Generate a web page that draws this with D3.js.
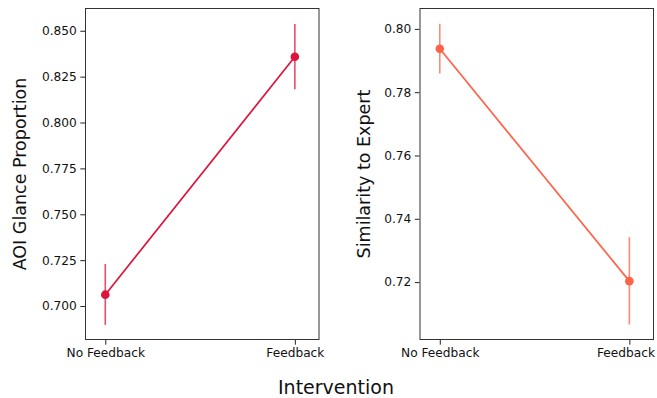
<!DOCTYPE html>
<html>
<head>
<meta charset="utf-8">
<script src="https://cdn.jsdelivr.net/npm/d3@7"></script>
<style>
  html, body { margin: 0; padding: 0; background: #fff; }
  svg { display: block; font-family: "DejaVu Sans", sans-serif; }
</style>
</head>
<body>
<svg id="chart" width="657" height="398"></svg>
<script>
// Intervention groups
const categories = ["No Feedback", "Feedback"];

// AOI glance proportion: mean and confidence interval per group
const aoiMean = [0.7062, 0.8358];
const aoiLow  = [0.6897, 0.8181];
const aoiHigh = [0.7229, 0.8537];
const aoiTicks = [0.700, 0.725, 0.750, 0.775, 0.800, 0.825, 0.850];

// Similarity to expert: mean and confidence interval per group
const simMean = [0.7937, 0.7203];
const simLow  = [0.7859, 0.7066];
const simHigh = [0.8016, 0.7342];
const simTicks = [0.72, 0.74, 0.76, 0.78, 0.80];

const W = 657;
const svg = d3.select("#chart");

function panel(opts) {
  const { left, right, top, bottom, yDomain, ticks, fmt, mean, low, high, color, label, labelX } = opts;
  const x = d3.scaleLinear().domain([-0.107, 1.13]).range([left, right]);
  const y = d3.scaleLinear().domain(yDomain).range([bottom, top]);
  const g = svg.append("g");

  // y axis
  const ya = g.append("g")
    .attr("transform", `translate(${left},0)`)
    .call(d3.axisLeft(y).tickValues(ticks).tickFormat(d3.format(fmt)).tickSize(4.7).tickPadding(3.5));
  // x axis
  const xa = g.append("g")
    .attr("transform", `translate(0,${bottom})`)
    .call(d3.axisBottom(x).tickValues(categories.map((_, i) => i))
      .tickFormat(i => categories[i]).tickSize(4.7).tickPadding(3.5));
  [ya, xa].forEach(a => {
    a.select(".domain").remove();
    a.selectAll(".tick line").attr("stroke", "#222");
    a.selectAll(".tick text").attr("fill", "#111").style("font-size", "12.2px")
      .style("font-family", "'DejaVu Sans', sans-serif");
  });

  // keep category labels inside the canvas
  xa.selectAll(".tick").each(function () {
    const t = d3.select(this).select("text");
    const b = this.getBBox();
    const m = this.getCTM();
    const rightEdge = m.e + b.x + b.width;
    if (rightEdge > W - 1) t.attr("x", -(rightEdge - (W - 1)));
  });

  // frame
  g.append("rect")
    .attr("x", left + 0.5).attr("y", top + 0.5)
    .attr("width", right - left - 1).attr("height", bottom - top - 1)
    .attr("fill", "none").attr("stroke", "#333").attr("stroke-width", 1);

  const idx = categories.map((_, i) => i);

  // error bars
  g.selectAll(".err").data(idx).join("line")
    .attr("x1", i => x(i)).attr("x2", i => x(i))
    .attr("y1", i => y(low[i])).attr("y2", i => y(high[i]))
    .attr("stroke", color).attr("stroke-opacity", 0.75).attr("stroke-width", 1.6);

  // connecting line
  g.append("path")
    .datum(idx)
    .attr("d", d3.line().x(i => x(i)).y(i => y(mean[i])))
    .attr("fill", "none").attr("stroke", color).attr("stroke-width", 1.7);

  // point markers
  g.selectAll(".pt").data(idx).join("circle")
    .attr("cx", i => x(i)).attr("cy", i => y(mean[i])).attr("r", 4.3)
    .attr("fill", color);

  // y label
  g.append("text")
    .attr("transform", `translate(${labelX},${(top + bottom) / 2}) rotate(-90)`)
    .attr("text-anchor", "middle")
    .style("font-size", "17.5px").attr("fill", "#111")
    .text(label);
}

panel({
  left: 85, right: 319.5, top: 8, bottom: 340,
  yDomain: [0.6815, 0.8624], ticks: aoiTicks, fmt: ".3f",
  mean: aoiMean, low: aoiLow, high: aoiHigh,
  color: "#DC143C", label: "AOI Glance Proportion", labelX: 26
});

panel({
  left: 419.5, right: 654, top: 8, bottom: 340,
  yDomain: [0.7017, 0.8066], ticks: simTicks, fmt: ".2f",
  mean: simMean, low: simLow, high: simHigh,
  color: "#FF6347", label: "Similarity to Expert", labelX: 370
});

// shared x label
svg.append("text")
  .attr("x", 336).attr("y", 394)
  .attr("text-anchor", "middle")
  .style("font-size", "19px").attr("fill", "#111")
  .text("Intervention");
</script>
</body>
</html>
